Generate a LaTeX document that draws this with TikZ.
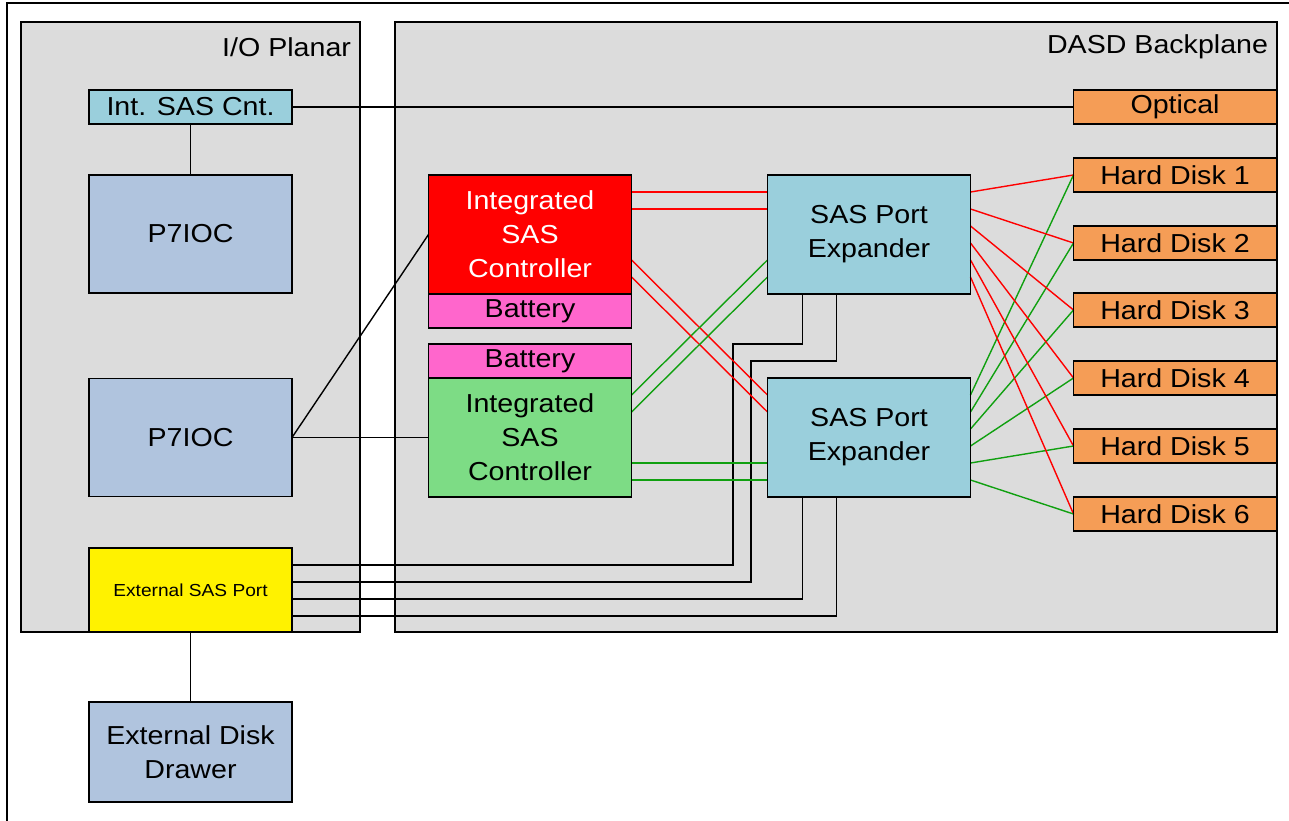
\documentclass[tikz,border=0pt]{standalone}
\usepackage{fontspec}
\setmainfont{Liberation Sans}[FakeStretch=1.1]
\usetikzlibrary{calc}
\definecolor{panelgray}{HTML}{DCDCDC}
\definecolor{steel}{HTML}{B0C4DE}
\definecolor{sasblue}{HTML}{9ACFDC}
\definecolor{diskorange}{HTML}{F59D56}
\definecolor{batpink}{HTML}{FF66CC}
\definecolor{ctlgreen}{HTML}{7DDC85}
\definecolor{ctlred}{HTML}{FF0000}
\definecolor{wirered}{HTML}{FF0000}
\definecolor{wiregreen}{HTML}{10A010}
\begin{document}
\begin{tikzpicture}[x=1pt,y=-1pt,
  every node/.style={inner sep=0pt,outer sep=0pt,align=center,
    font=\fontsize{26}{34}\selectfont},
  panel/.style={draw=black,line width=1.5pt,fill=panelgray,rectangle},
  unit/.style={draw=black,line width=1.5pt,rectangle,minimum width=203pt},
  wire/.style={line width=1.4pt,black},
  rwire/.style={line width=1.4pt,wirered},
  gwire/.style={line width=1.4pt,wiregreen},
  lbl/.style={anchor=east}]
\useasboundingbox (0,0) rectangle (1289,821);
% outer frame
\draw[line width=1.5pt] (7,830) -- (7,3) -- (1300,3);

% carrier boards
\node[panel,minimum width=339pt,minimum height=610pt] (planar) at (190.5,327) {};
\node[panel,minimum width=882pt,minimum height=610pt] (backplane) at (836,327) {};
\node[lbl] (planarlbl) at (351,47) {I/O Planar};
\node[lbl] (backplanelbl) at (1268,47) {DASD Backplane};

% planar components
\node[unit,fill=sasblue,minimum height=34pt] (intsas) at (190.5,107) {Int. SAS Cnt.};
\node[unit,fill=steel,minimum height=118pt] (pa) at (190.5,234) {P7IOC};
\node[unit,fill=steel,minimum height=118pt] (pb) at (190.5,437.5) {P7IOC};
\node[unit,fill=yellow,minimum height=84pt,font=\fontsize{17.4}{20}\selectfont] (ext) at (190.5,590) {External SAS Port};
\node[unit,fill=steel,minimum height=100pt] (drawer) at (190.5,752) {External Disk\\Drawer};

% backplane components
\node[unit,fill=ctlred,text=white,minimum height=119pt] (ctla) at (530,234.5) {Integrated\\SAS\\Controller};
\node[unit,fill=batpink,minimum height=34pt] (bata) at (530,311) {Battery};
\node[unit,fill=batpink,minimum height=34pt] (batb) at (530,361) {Battery};
\node[unit,fill=ctlgreen,minimum height=119pt] (ctlb) at (530,437.5) {Integrated\\SAS\\Controller};
\node[unit,fill=sasblue,minimum height=119pt] (expa) at (869,234.5) {SAS Port\\Expander};
\node[unit,fill=sasblue,minimum height=119pt] (expb) at (869,437.5) {SAS Port\\Expander};
\node[unit,fill=diskorange,minimum height=34pt] (optical) at (1175,107) {Optical};
\foreach \i/\y in {1/175,2/243,3/310,4/378,5/446,6/514}
  \node[unit,fill=diskorange,minimum height=34pt] (hd\i) at (1175,\y) {Hard Disk \i};

% expander bottom ports used by the external cabling
\coordinate (ea) at ($(expa.south west)+(35,0)$);
\coordinate (eb) at ($(expa.south west)+(69,0)$);
\coordinate (ec) at ($(expb.south west)+(35,0)$);
\coordinate (ed) at ($(expb.south west)+(69,0)$);

% black links
\draw[wire] (intsas.east) -- (optical.west);
\draw[wire] (intsas.south) -- (pa.north);
\draw[wire] (pb.east) -- (ctla.west);
\draw[wire] (pb.east) -- (ctlb.west);
\draw[wire] (ext.south) -- (drawer.north);
\draw[wire] ($(ext.north east)+(0,17)$) -| (733,344) -| (ea);
\draw[wire] ($(ext.north east)+(0,34)$) -| (751,361) -| (eb);
\draw[wire] ($(ext.north east)+(0,51)$) -| (ec);
\draw[wire] ($(ext.north east)+(0,68)$) -| (ed);

% controller to expander links
\foreach \d in {17,34} {
  \draw[rwire] ($(ctla.north east)+(0,\d)$) -- ($(expa.north west)+(0,\d)$);
  \draw[rwire] ($(ctla.north east)+(0,\d+68)$) -- ($(expb.north west)+(0,\d)$);
  \draw[gwire] ($(ctlb.north east)+(0,\d)$) -- ($(expa.north west)+(0,\d+68)$);
  \draw[gwire] ($(ctlb.north east)+(0,\d+68)$) -- ($(expb.north west)+(0,\d+68)$);
}

% expander to disk links
\foreach \i in {1,...,6} {
  \draw[rwire] ($(expa.north east)+(0,17*\i)$) -- (hd\i.west);
  \draw[gwire] ($(expb.north east)+(0,17*\i)$) -- (hd\i.west);
}

% box outlines on top of the link ends
\foreach \n in {intsas,pa,pb,ext,drawer,ctla,bata,batb,ctlb,expa,expb,optical,hd1,hd2,hd3,hd4,hd5,hd6}
  \draw[line width=1.5pt] (\n.north west) rectangle (\n.south east);
\end{tikzpicture}
\end{document}
